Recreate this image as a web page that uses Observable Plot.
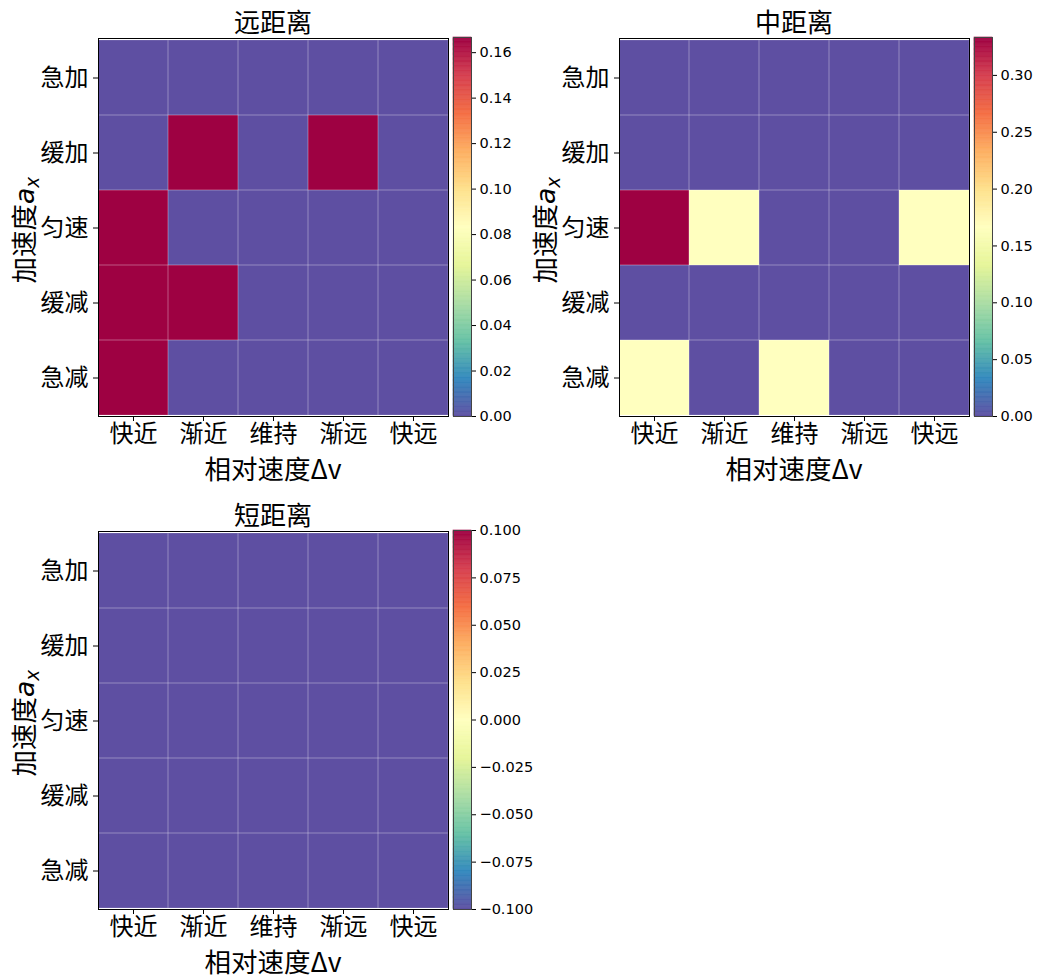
<!DOCTYPE html>
<html>
<head>
<meta charset="utf-8">
<script src="https://cdn.jsdelivr.net/npm/d3@7"></script>
<script src="https://cdn.jsdelivr.net/npm/@observablehq/plot@0.6"></script>
<style>
  html, body { margin: 0; padding: 0; background: white; }
  #root { position: relative; width: 1040px; height: 980px; background: white; overflow: hidden; }
  .title, .xlabel, .ylabel { font-family: "Noto Sans CJK SC", "Noto Sans", sans-serif; color: black; white-space: nowrap; line-height: 1; }
</style>
</head>
<body>
<div id="root"></div>
<script>
// ---- data ----
const dvCats = ["快近", "渐近", "维持", "渐远", "快远"];          // x categories (相对速度Δv)
const axCats = ["急加", "缓加", "匀速", "缓减", "急减"];          // y categories (加速度a_x), top to bottom
const panelTitles = ["远距离", "中距离", "短距离"];
// rows: axCats, cols: dvCats
const farValues = [
  [0, 0, 0, 0, 0],
  [0, 1/6, 0, 1/6, 0],
  [1/6, 0, 0, 0, 0],
  [1/6, 1/6, 0, 0, 0],
  [1/6, 0, 0, 0, 0]
];
const midValues = [
  [0, 0, 0, 0, 0],
  [0, 0, 0, 0, 0],
  [1/3, 1/6, 0, 0, 1/6],
  [0, 0, 0, 0, 0],
  [1/6, 0, 1/6, 0, 0]
];
const shortValues = [
  [0, 0, 0, 0, 0],
  [0, 0, 0, 0, 0],
  [0, 0, 0, 0, 0],
  [0, 0, 0, 0, 0],
  [0, 0, 0, 0, 0]
];
const farTicks = [0, 0.02, 0.04, 0.06, 0.08, 0.10, 0.12, 0.14, 0.16];
const midTicks = [0, 0.05, 0.10, 0.15, 0.20, 0.25, 0.30];
const shortTicks = [-0.1, -0.075, -0.05, -0.025, 0, 0.025, 0.05, 0.075, 0.1];
const tickFormats = [".2f", ".2f", ".3f"];

// ---- styling ----
const spectral = ["#9e0142","#d53e4f","#f46d43","#fdae61","#fee08b","#ffffbf","#e6f598","#abdda4","#66c2a5","#3288bd","#5e4fa2"];
const spectralR = d3.piecewise(d3.interpolateRgb, spectral.slice().reverse());
const cjk = "'Noto Sans CJK SC', 'Noto Sans', sans-serif";

const root = document.getElementById("root");

function place(el, left, top) {
  el.style.position = "absolute";
  el.style.left = left + "px";
  el.style.top = top + "px";
  root.appendChild(el);
}

const panels = [
  {title: panelTitles[0], values: farValues, ticks: farTicks, fmt: tickFormats[0], ox: 0, oy: 0},
  {title: panelTitles[1], values: midValues, ticks: midTicks, fmt: tickFormats[1], ox: 521, oy: 0},
  {title: panelTitles[2], values: shortValues, ticks: shortTicks, fmt: tickFormats[2], ox: 0, oy: 493}
];

const ML = 98, MT = 38, PW = 350, PH = 378;

panels.forEach(p => {
  const table = [];
  p.values.forEach((row, i) => row.forEach((v, j) => table.push({ax: axCats[i], dv: dvCats[j], v})));
  const lo = d3.min(table, d => d.v), hi = d3.max(table, d => d.v);
  const singular = lo === hi;
  const cellDomain = singular ? [lo, lo + 1] : [lo, hi];
  const cbDomain = singular ? [lo - 0.1, hi + 0.1] : [lo, hi];

  // heatmap
  const heat = Plot.plot({
    width: ML + PW + 2,
    height: MT + PH + 36,
    marginLeft: ML, marginRight: 2, marginTop: MT, marginBottom: 36,
    style: {fontFamily: cjk, fontSize: "24px", color: "black", background: "transparent", overflow: "visible"},
    x: {type: "band", domain: dvCats, padding: 0},
    y: {type: "band", domain: axCats, padding: 0},
    color: {type: "linear", domain: cellDomain, interpolate: spectralR},
    marks: [
      Plot.cell(table, {x: "dv", y: "ax", fill: "v", inset: 0}),
      Plot.cell(table, {x: "dv", y: "ax", fill: "none", stroke: "white", strokeOpacity: 0.18, strokeWidth: 1, inset: 0}),
      Plot.frame({stroke: "black", strokeWidth: 1}),
      Plot.axisX({anchor: "bottom", tickSize: 5, tickPadding: 3, fontSize: 24, label: null}),
      Plot.axisY({anchor: "left", tickSize: 5, tickPadding: 5, fontSize: 24, label: null})
    ]
  });
  place(heat, p.ox, p.oy);

  // colorbar
  const n = 300;
  const steps = d3.range(n).map(i => ({
    y1: cbDomain[0] + (cbDomain[1] - cbDomain[0]) * i / n,
    y2: cbDomain[0] + (cbDomain[1] - cbDomain[0]) * (i + 1) / n
  }));
  const cbL = 13, cbW = 18;
  const cb = Plot.plot({
    width: cbL + cbW + 70,
    height: MT + PH + 36,
    marginLeft: cbL, marginRight: 70, marginTop: MT - 1, marginBottom: 36,
    style: {fontFamily: "'DejaVu Sans', sans-serif", fontSize: "14.5px", color: "black", background: "transparent", overflow: "visible"},
    x: {domain: [0, 1], axis: null},
    y: {type: "linear", domain: cbDomain},
    color: {type: "linear", domain: cbDomain, interpolate: spectralR},
    marks: [
      Plot.rect(steps, {x1: 0, x2: 1, y1: "y1", y2: "y2", fill: d => (d.y1 + d.y2) / 2, stroke: d => (d.y1 + d.y2) / 2, strokeWidth: 0.6}),
      Plot.frame({stroke: "#444", strokeWidth: 1}),
      Plot.axisY({anchor: "right", ticks: p.ticks, tickFormat: d3.format(p.fmt), tickSize: 4, tickPadding: 4, fontSize: 14.5, label: null})
    ]
  });
  place(cb, p.ox + 440, p.oy);

  // title
  const t = document.createElement("div");
  t.className = "title";
  t.textContent = p.title;
  t.style.fontSize = "26px";
  t.style.width = PW + "px";
  t.style.textAlign = "center";
  place(t, p.ox + ML, p.oy + 8);

  // x label
  const xl = document.createElement("div");
  xl.className = "xlabel";
  xl.textContent = "相对速度Δv";
  xl.style.fontSize = "26.5px";
  xl.style.width = PW + "px";
  xl.style.textAlign = "center";
  place(xl, p.ox + ML, p.oy + 455);

  // y label (rotated)
  const yl = document.createElement("div");
  yl.className = "ylabel";
  yl.innerHTML = '加速度<span style="font-family:\'DejaVu Sans\';font-style:italic">a</span><sub style="font-family:\'DejaVu Sans\';font-style:italic;font-size:0.7em;vertical-align:-0.25em">x</sub>';
  yl.style.fontSize = "26.5px";
  yl.style.width = "200px";
  yl.style.textAlign = "center";
  yl.style.transformOrigin = "center center";
  yl.style.transform = "rotate(-90deg)";
  place(yl, p.ox + 26 - 100, p.oy + MT + PH / 2 - 13);
});
</script>
</body>
</html>
